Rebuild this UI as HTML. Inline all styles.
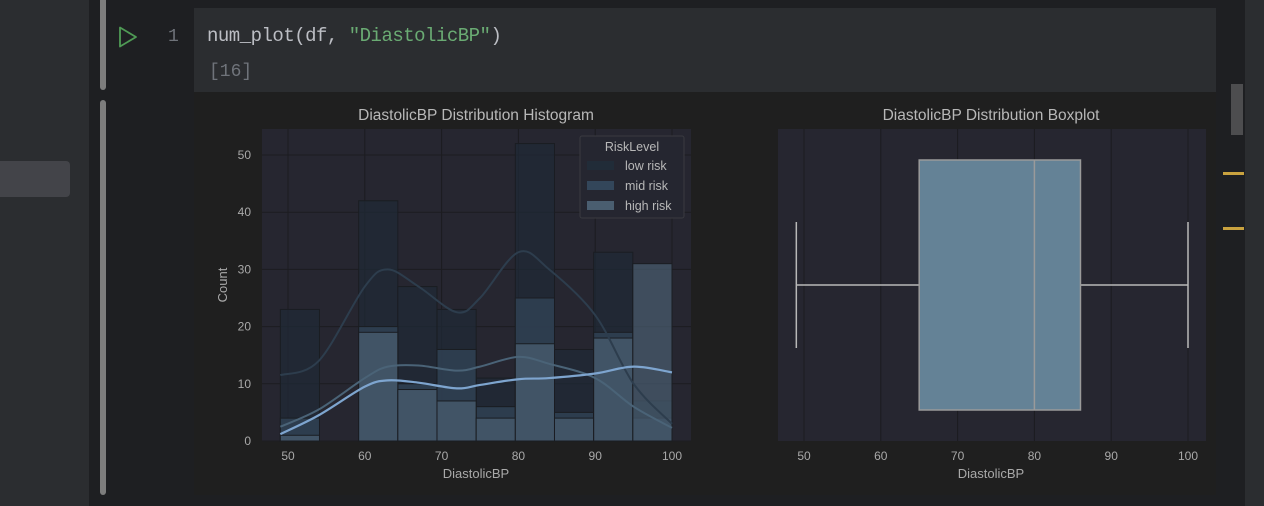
<!DOCTYPE html>
<html><head><meta charset="utf-8"><style>
html,body{margin:0;padding:0;width:1264px;height:506px;overflow:hidden;background:#1e1f22;font-family:"Liberation Sans",sans-serif}
.abs{position:absolute}
</style></head><body>
<div class="abs" style="left:0;top:0;width:89px;height:506px;background:#2b2d30"></div>
<div class="abs" style="left:0;top:161px;width:70px;height:36px;background:#434449;border-radius:0 4px 4px 0"></div>
<div class="abs" style="left:100px;top:0;width:6px;height:90px;background:#7d7d7d;border-radius:0 0 3px 3px"></div>
<div class="abs" style="left:100px;top:100px;width:6px;height:395px;background:#7d7d7d;border-radius:3px"></div>
<svg class="abs" style="left:118px;top:26px" width="20" height="22"><path d="M2 1.5 L18 11 L2 20.5 Z" fill="none" stroke="#4f9a55" stroke-width="1.8" stroke-linejoin="round"/></svg>
<div class="abs" style="left:168px;top:27px;font:18px 'Liberation Mono',monospace;color:#6f737a">1</div>
<div class="abs" style="left:194px;top:8px;width:1022px;height:84px;background:#2b2d30"></div>
<div class="abs" style="left:207px;top:25px;font:19px 'Liberation Mono',monospace;color:#bcbec4;letter-spacing:-0.5px">num_plot(df, <span style="color:#6aab73">"DiastolicBP"</span>)</div>
<div class="abs" style="left:209px;top:62px;font:18px 'Liberation Mono',monospace;color:#6f737a">[16]</div>
<div class="abs" style="left:1231px;top:84px;width:12px;height:51px;background:#4d4d4f"></div>
<div class="abs" style="left:1245px;top:0;width:19px;height:506px;background:#2b2d30"></div>
<div class="abs" style="left:1223px;top:172px;width:21px;height:3px;background:#c9a23f"></div>
<div class="abs" style="left:1223px;top:227px;width:21px;height:3px;background:#c9a23f"></div>
<div class="abs" style="left:194px;top:92px;width:1022px;height:403px;background:#1f1f1f"></div>
<svg id="chart" class="abs" style="left:0;top:0" width="1264" height="506"></svg>
<script>
const binEdges=[49,54.1,59.2,64.3,69.4,74.5,79.6,84.7,89.8,94.9,100];
const lowRisk=[23,0,42,27,23,11,52,16,33,7];
const midRisk=[4,0,20,10,16,6,25,5,19,4];
const highRisk=[1,0,19,9,7,4,17,4,18,31];
const kdeX=[49,54,60,63,67,72,75,80,84,90,95,100];
const kdeLow=[11.5,14,27,30,27,22.5,25,33,30,22,10,3];
const kdeMid=[2.5,5.5,11,13,13.2,12.3,13,14.7,13.5,11,6,2.3];
const kdeHigh=[1.2,4.5,9.5,10.6,10.2,9.2,9.8,10.8,11,11.8,13,12];
const xTicks=[50,60,70,80,90,100];
const yTicks=[0,10,20,30,40,50];
const boxStats=[49,65,80,86,100]; // min,q1,median,q3,max
const NS='http://www.w3.org/2000/svg';
const svg=document.getElementById('chart');
function mk(t,a,p){const e=document.createElementNS(NS,t);for(const k in a)e.setAttribute(k,a[k]);(p||svg).appendChild(e);return e;}
const TXT='#a9a9a9';
const hx=v=>288+(v-50)*7.68, hy=v=>441-v*5.72;
const ax1=mk('rect',{x:262,y:129,width:429,height:312,fill:'#262630'});


xTicks.forEach(t=>{const l=mk('line',{x1:hx(t),x2:hx(t),y1:129,y2:441,stroke:'#1c1c20','stroke-width':1});


const tx=mk('text',{x:hx(t),y:460,fill:TXT,'font-size':12,'text-anchor':'middle'});tx.textContent=t;

});
yTicks.forEach(t=>{const l=mk('line',{x1:262,x2:691,y1:hy(t),y2:hy(t),stroke:'#1c1c20','stroke-width':1});


const tx=mk('text',{x:251,y:hy(t)+4,fill:TXT,'font-size':12,'text-anchor':'end'});tx.textContent=t;

});
const series=[[lowRisk,'#1f2a36','low'],[midRisk,'#33465a','mid'],[highRisk,'#4a5e70','high']];
series.forEach(([vals,col,nm])=>{vals.forEach((v,i)=>{if(!v)return;
const r=mk('rect',{x:hx(binEdges[i]),y:hy(v),width:hx(binEdges[i+1])-hx(binEdges[i]),height:v*5.72,fill:col,'fill-opacity':0.7,stroke:'#1a1d22','stroke-width':1});

});});
function curve(ys,col,w,nm){let d='';const pts=kdeX.map((x,i)=>[hx(x),hy(ys[i])]);
d='M'+pts[0].join(',');for(let i=0;i<pts.length-1;i++){const p0=pts[i-1]||pts[i],p1=pts[i],p2=pts[i+1],p3=pts[i+2]||p2;
d+=` C${p1[0]+(p2[0]-p0[0])/6},${p1[1]+(p2[1]-p0[1])/6} ${p2[0]-(p3[0]-p1[0])/6},${p2[1]-(p3[1]-p1[1])/6} ${p2[0]},${p2[1]}`;}
const p=mk('path',{d,fill:'none',stroke:col,'stroke-width':w});

}
curve(kdeLow,'#2d3d4d',2,'low-risk');curve(kdeMid,'#4a6377',2,'mid-risk');curve(kdeHigh,'#7ea5cf',2.2,'high-risk');
const t1=mk('text',{x:476,y:120,fill:'#b8b8b8','font-size':15.5,'text-anchor':'middle'});t1.textContent='DiastolicBP Distribution Histogram';


const xl=mk('text',{x:476,y:478,fill:TXT,'font-size':13,'text-anchor':'middle'});xl.textContent='DiastolicBP';


const yl=mk('text',{x:227,y:285,fill:TXT,'font-size':13,'text-anchor':'middle',transform:'rotate(-90 227 285)'});yl.textContent='Count';


const lg=mk('g',{});


mk('rect',{x:580,y:136,width:104,height:82,fill:'#252630',stroke:'#3a3b40','stroke-width':1,rx:2},lg);
const lt=mk('text',{x:632,y:151,fill:'#b8b8b8','font-size':12.5,'text-anchor':'middle'},lg);lt.textContent='RiskLevel';
[['low risk','#212c38'],['mid risk','#33465a'],['high risk','#4a5e70']].forEach(([n,c],i)=>{
const g=mk('g',{},lg);


mk('rect',{x:587,y:161+i*20,width:27,height:9,fill:c},g);
const t=mk('text',{x:625,y:170+i*20,fill:'#b8b8b8','font-size':12.5},g);t.textContent=n;});
const bx=v=>804+(v-50)*7.68;
const ax2=mk('rect',{x:778,y:129,width:428,height:312,fill:'#262630'});


xTicks.forEach(t=>{const l=mk('line',{x1:bx(t),x2:bx(t),y1:129,y2:441,stroke:'#1c1c20','stroke-width':1});


const tx=mk('text',{x:bx(t),y:460,fill:TXT,'font-size':12,'text-anchor':'middle'});tx.textContent=t;

});
const [mn,q1,md,q3,mx]=boxStats;
const wk=mk('path',{d:`M${bx(mn)},285H${bx(q1)}M${bx(q3)},285H${bx(mx)}M${bx(mn)},222V348M${bx(mx)},222V348`,stroke:'#b8b8b8','stroke-width':1.5,fill:'none'});


const bxr=mk('rect',{x:bx(q1),y:160,width:bx(q3)-bx(q1),height:250,fill:'#648296',stroke:'#9a9a9a','stroke-width':1.5});


const ml=mk('line',{x1:bx(md),x2:bx(md),y1:160,y2:410,stroke:'#9a9a9a','stroke-width':1.5});


const t2=mk('text',{x:991,y:120,fill:'#b8b8b8','font-size':15.5,'text-anchor':'middle'});t2.textContent='DiastolicBP Distribution Boxplot';


const xl2=mk('text',{x:991,y:478,fill:TXT,'font-size':13,'text-anchor':'middle'});xl2.textContent='DiastolicBP';


</script>
</body></html>
